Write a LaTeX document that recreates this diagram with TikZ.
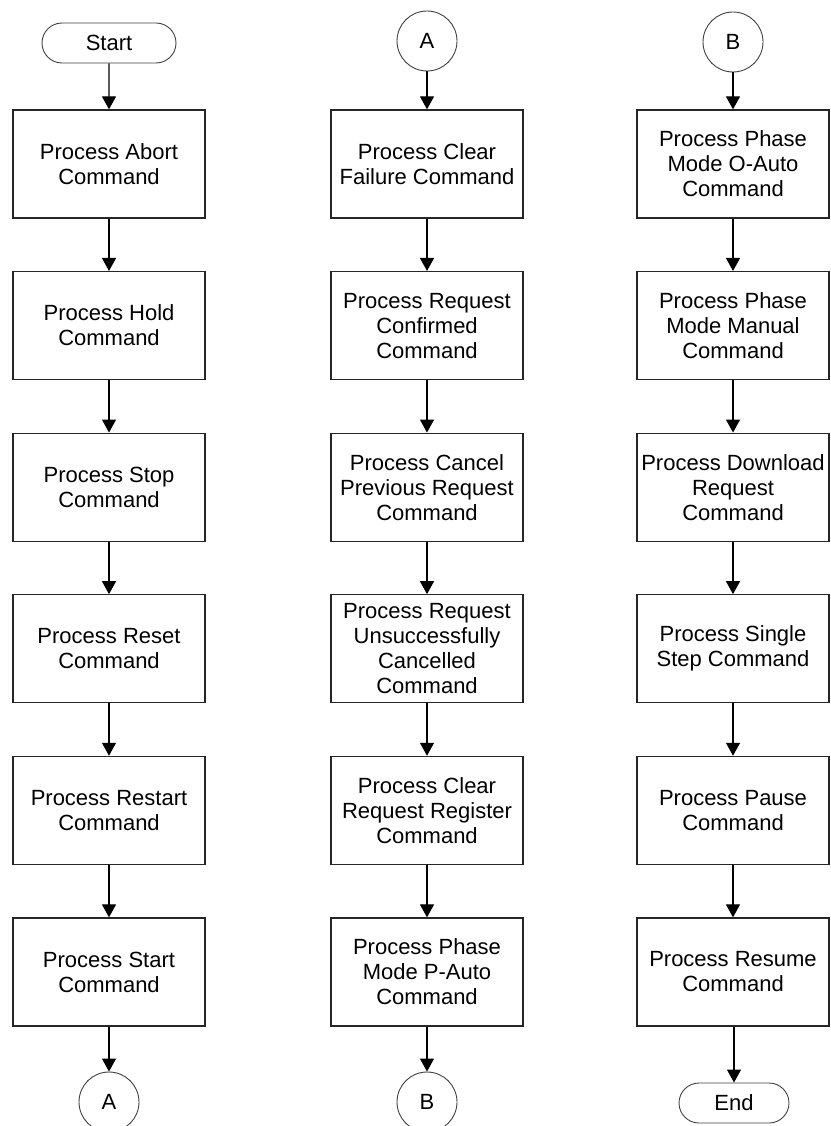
\documentclass[tikz,border=0pt]{standalone}
\usepackage{fontspec}
\setmainfont{Liberation Sans}
\usetikzlibrary{arrows.meta,shapes.misc}

\tikzset{
  stepbox/.style={draw=black!85, line width=1.3pt, rectangle, minimum width=192pt,
    minimum height=108pt, inner sep=1pt, align=center,
    font=\fontsize{22}{25}\selectfont},
  termbox/.style={draw=black!75, line width=0.9pt, rounded rectangle,
    minimum height=40pt, inner sep=0pt, font=\fontsize{22}{25}\selectfont},
  connbox/.style={draw=black!75, line width=0.9pt, circle, minimum size=60pt,
    inner sep=0pt, font=\fontsize{22}{25}\selectfont},
  flow/.style={draw=black, line width=1.2pt,
    -{Triangle[width=14pt,length=13pt]}},
}

\begin{document}
\begin{tikzpicture}[x=1pt,y=-1pt]
  \useasboundingbox (0,0) rectangle (830,1126);

  \def\ya{164}\def\yb{325.6}\def\yc{487.2}\def\yd{648.8}\def\ye{810.4}\def\yf{972}

  % column 1
  \node[termbox, minimum width=134pt] (start) at (109,43) {Start};
  \node[stepbox] (a1) at (109,\ya) {Process Abort\\Command};
  \node[stepbox] (a2) at (109,\yb) {Process Hold\\Command};
  \node[stepbox] (a3) at (109,\yc) {Process Stop\\Command};
  \node[stepbox] (a4) at (109,\yd) {Process Reset\\Command};
  \node[stepbox] (a5) at (109,\ye) {Process Restart\\Command};
  \node[stepbox] (a6) at (109,\yf) {Process Start\\Command};
  \node[connbox] (outA) at (109,1102) {A};

  % column 2
  \node[connbox] (inA) at (427,41) {A};
  \node[stepbox] (b1) at (427,\ya) {Process Clear\\Failure Command};
  \node[stepbox] (b2) at (427,\yb) {Process Request\\Confirmed\\Command};
  \node[stepbox] (b3) at (427,\yc) {Process Cancel\\Previous Request\\Command};
  \node[stepbox] (b4) at (427,\yd) {Process Request\\Unsuccessfully\\Cancelled\\Command};
  \node[stepbox] (b5) at (427,\ye) {Process Clear\\Request Register\\Command};
  \node[stepbox] (b6) at (427,\yf) {Process Phase\\Mode P-Auto\\Command};
  \node[connbox] (outB) at (427,1102) {B};

  % column 3
  \node[connbox] (inB) at (733,42) {B};
  \node[stepbox] (c1) at (733,\ya) {Process Phase\\Mode O-Auto\\Command};
  \node[stepbox] (c2) at (733,\yb) {Process Phase\\Mode Manual\\Command};
  \node[stepbox] (c3) at (733,\yc) {Process Download\\Request\\Command};
  \node[stepbox] (c4) at (733,\yd) {Process Single\\Step Command};
  \node[stepbox] (c5) at (733,\ye) {Process Pause\\Command};
  \node[stepbox] (c6) at (733,\yf) {Process Resume\\Command};
  \node[termbox, minimum width=110pt] (finish) at (734,1103) {End};

  % connectors
  \foreach \u/\v in {start/a1,a1/a2,a2/a3,a3/a4,a4/a5,a5/a6,a6/outA,
                     inA/b1,b1/b2,b2/b3,b3/b4,b4/b5,b5/b6,b6/outB,
                     inB/c1,c1/c2,c2/c3,c3/c4,c4/c5,c5/c6}
    \draw[flow] (\u) -- (\v);
  \draw[flow] (c6.south -| finish.north) -- (finish.north);
\end{tikzpicture}
\end{document}
